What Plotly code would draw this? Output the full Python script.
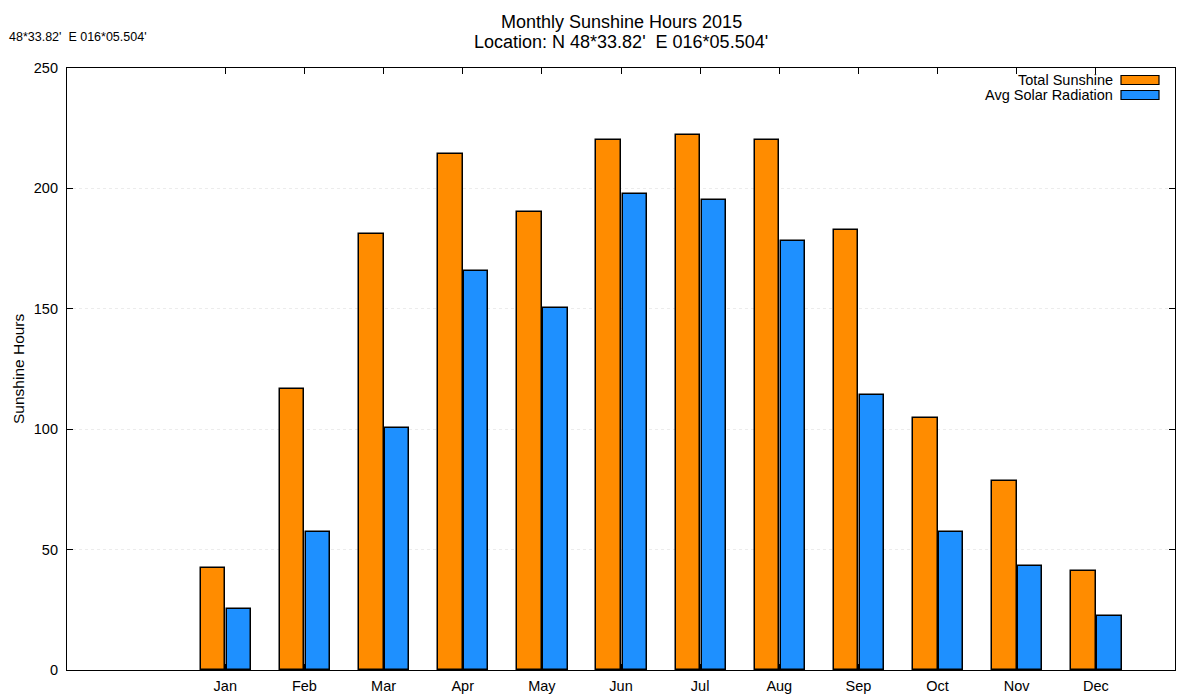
import plotly.graph_objects as go

months = ["Jan", "Feb", "Mar", "Apr", "May", "Jun", "Jul", "Aug", "Sep", "Oct", "Nov", "Dec"]
total_sunshine = [42.3, 116.6, 181.2, 214.4, 190.4, 220.3, 222.3, 220.3, 182.8, 104.8, 78.6, 41.1]
avg_solar = [25.3, 57.2, 100.3, 165.5, 150.5, 197.8, 195.3, 178.2, 114.3, 57.2, 43.1, 22.4]
series_names = ["Total Sunshine", "Avg Solar Radiation"]
series_colors = ["#FF8C00", "#1E90FF"]
y_ticks = [0, 50, 100, 150, 200, 250]

xs = list(range(len(months)))

fig = go.Figure()
fig.add_trace(go.Bar(x=xs, y=total_sunshine, name=series_names[0], width=0.31, offset=-0.31,
                     marker=dict(color=series_colors[0], line=dict(color="black", width=1.5)),
                     showlegend=False))
fig.add_trace(go.Bar(x=xs, y=avg_solar, name=series_names[1], width=0.305, offset=0.02,
                     marker=dict(color=series_colors[1], line=dict(color="black", width=1.5)),
                     showlegend=False))

# page coordinates of plot area (absolute, in the 1200x700 window)
PL, PR, PT, PB = 67, 1175, 68, 670
plot_w = float(PR - PL)
plot_h = float(PB - PT)


def px(x):
    return (x - PL) / plot_w


def py(y):
    return (PB - y) / plot_h


# gnuplot-style legend: text right-aligned, swatch to the right
leg_rows = [80, 95]
for i, (nm, col) in enumerate(zip(series_names, series_colors)):
    yc = py(leg_rows[i])
    fig.add_annotation(xref="paper", yref="paper", x=px(1115), y=yc,
                       text=nm, showarrow=False, xanchor="right", yanchor="middle",
                       font=dict(size=14.5, color="black"))
    fig.add_shape(type="rect", xref="paper", yref="paper",
                  x0=px(1121), x1=px(1159),
                  y0=yc - 4.5 / plot_h, y1=yc + 4.5 / plot_h,
                  fillcolor=col, line=dict(color="black", width=1.2))

fig.add_annotation(xref="paper", yref="paper", x=px(8), y=py(37),
                   text="48*33.82'  E 016*05.504'", showarrow=False, xanchor="left",
                   yanchor="middle", borderpad=0, font=dict(size=12.5, color="black"))

# title lines
fig.add_annotation(xref="paper", yref="paper", x=0.5, y=py(22),
                   text="Monthly Sunshine Hours 2015", showarrow=False, xanchor="center",
                   yanchor="middle", font=dict(size=18, color="black"))
fig.add_annotation(xref="paper", yref="paper", x=0.5, y=py(42),
                   text="Location: N 48*33.82'  E 016*05.504'", showarrow=False, xanchor="center",
                   yanchor="middle", font=dict(size=18, color="black"))

# y axis title
fig.add_annotation(xref="paper", yref="paper", x=px(18), y=py(369),
                   text="Sunshine Hours", showarrow=False, xanchor="center",
                   yanchor="middle", textangle=-90, borderpad=0,
                   font=dict(size=15.5, color="black"))

OFF = 8  # page body margin offset
W, H = 1200 - OFF, 700 - OFF
fig.update_layout(
    width=W, height=H,
    paper_bgcolor="white", plot_bgcolor="white",
    font=dict(family="Liberation Sans, Arial, sans-serif", color="black", size=14),
    margin=dict(l=PL - OFF, r=W - (PR - OFF), t=PT - OFF, b=H - (PB - OFF), autoexpand=False),
    bargap=0, barmode="overlay",
)
fig.update_xaxes(range=[-2, 12], tickvals=xs, ticktext=months, ticks="inside", ticklen=6,
                 tickcolor="black", showline=True, linecolor="black", linewidth=1.2,
                 mirror="ticks", showgrid=False, zeroline=False, tickfont=dict(size=14.5),
                 ticklabelstandoff=2)
fig.update_yaxes(range=[0, 250], tickvals=y_ticks, ticks="inside", ticklen=6, tickcolor="black",
                 showline=True, linecolor="black", linewidth=1.2, mirror="ticks",
                 showgrid=True, gridcolor="#ececec", griddash="dot", gridwidth=1,
                 zeroline=False, tickfont=dict(size=14.5), ticklabelstandoff=5)

fig.write_html("out.html")
